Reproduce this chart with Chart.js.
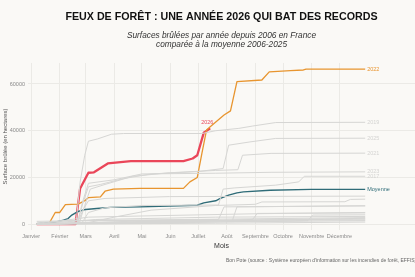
<!DOCTYPE html>
<html lang="fr">
<head>
<meta charset="utf-8">
<title>Feux de forêt 2026</title>
<script src="https://cdn.jsdelivr.net/npm/chart.js@4.4.1/dist/chart.umd.min.js"></script>
<style>
  html, body { margin: 0; padding: 0; background: #faf9f6; }
</style>
</head>
<body>
<canvas id="feuxChart" width="415" height="277"></canvas>
<script>
/* ===================================================
   Surfaces brûlées cumulées par année (hectares)
   =================================================== */

// Axe des mois : jour de l'année du 1er de chaque mois
const moisDebut = [0, 31, 59, 90, 120, 151, 181, 212, 243, 273, 304, 334];
const moisNoms = ["Janvier", "Février", "Mars", "Avril", "Mai", "Juin",
                  "Juillet", "Août", "Septembre", "Octobre", "Novembre", "Décembre"];
const yTicks = [0, 20000, 40000, 60000];

// Séries : [jour, surface cumulée]
const annee2026 = [[6,0],[48,0],[53,15300],[62,22000],[68,22200],[83,26000],[108,27000],
  [165,27000],[175,28100],[180,29500],[187,39100],[194,41000]];

const annee2022 = [[6,0],[19,0],[26,5000],[31,5000],[37,8400],[50,8600],[53,9000],[59,10300],
  [62,11400],[75,11700],[80,14100],[89,15000],[118,15300],[165,15300],[172,18100],[180,20000],
  [185,30300],[190,40300],[194,41700],[209,46700],[216,48500],[223,61000],[250,61700],
  [258,65200],[281,65700],[295,66000],[298,66400],[362,66400]];

const moyenne = [[6,200],[26,800],[35,1700],[40,2400],[44,3900],[50,5300],[59,6300],[71,6700],
  [86,7200],[118,7400],[180,8100],[187,9100],[200,10000],[205,11000],[214,12400],[223,13400],
  [230,13800],[259,14500],[303,14900],[362,14900]];

// autres années (en gris)
const annee2019 = [[6,0],[45,300],[49,2000],[53,18000],[58,29500],[62,35500],[72,36500],[87,38500],
  [100,38800],[185,38800],[200,40000],[225,41000],[240,42000],[265,43500],[362,43600]];
const annee2025 = [[6,0],[50,500],[56,9000],[62,16000],[75,17000],[100,19500],[130,21500],
  [180,22500],[208,23800],[214,33800],[237,35200],[265,36700],[362,36800]];
const annee2021 = [[6,0],[52,300],[58,8000],[64,15000],[80,17000],[110,20500],[150,22000],
  [200,23000],[224,23300],[229,29500],[260,30300],[362,30400]];
const annee2023 = [[6,0],[50,400],[56,10000],[62,17500],[90,19000],[120,21500],[200,21800],
  [260,22200],[362,22400]];
const annee2017 = [[6,0],[55,500],[62,5000],[80,7000],[120,8000],[203,8200],[208,15000],
  [220,15500],[265,16700],[290,18100],[296,20500],[362,20500]];
const annee2006 = [[6,0],[50,300],[56,6000],[62,10000],[80,11000],[150,11800],[362,12000]];
const annee2016 = [[6,0],[60,500],[90,3000],[130,6000],[200,8000],[243,8500],[250,9500],
  [340,9600],[346,10600],[362,10700]];
const annee2015 = [[6,0],[60,400],[120,1500],[203,2000],[209,7400],[362,7800]];
const annee2010 = [[6,0],[100,800],[218,1500],[223,7400],[362,7900]];
const annee2012 = [[6,0],[150,1000],[240,2000],[245,4600],[362,4800]];
const annee2020 = [[6,0],[200,1000],[300,1500],[305,3900],[362,4000]];
const annee2007 = [[6,200],[60,800],[200,1500],[362,2500]];
const annee2008 = [[6,100],[80,500],[250,1800],[362,2200]];
const annee2009 = [[6,0],[100,300],[220,1000],[362,1500]];
const annee2011 = [[6,500],[40,1500],[362,1800]];
const annee2013 = [[6,1200],[50,1500],[362,2800]];
const annee2014 = [[6,0],[200,400],[362,900]];
const annee2018 = [[6,0],[62,3000],[120,3500],[250,4500],[362,5000]];
const annee2024 = [[6,0],[70,2000],[200,3000],[362,3300]];

const grises = [
  ["2019", annee2019, true], ["2025", annee2025, true], ["2021", annee2021, true],
  ["2023", annee2023, true], ["2017", annee2017, true], ["2006", annee2006, false],
  ["2016", annee2016, false], ["2015", annee2015, false], ["2010", annee2010, false],
  ["2012", annee2012, false], ["2020", annee2020, false], ["2007", annee2007, false],
  ["2008", annee2008, false], ["2009", annee2009, false], ["2011", annee2011, false],
  ["2013", annee2013, false], ["2014", annee2014, false], ["2018", annee2018, false],
  ["2024", annee2024, false]
];

const source = "Bon Pote (source : Système européen d'information sur les incendies de forêt, EFFIS)";

const enPoints = serie => serie.map(([x, y]) => ({ x, y }));

const datasets = [];
grises.forEach(([annee, serie, etiquette]) => {
  datasets.push({
    label: annee, data: enPoints(serie),
    borderColor: "#d6d6d4", borderWidth: 1,
    etiquette: etiquette ? annee : null, couleurEtiquette: "#d4d4d2"
  });
});
datasets.push({ label: "Moyenne", data: enPoints(moyenne), borderColor: "#2f6c78",
  borderWidth: 1.4, etiquette: "Moyenne", couleurEtiquette: "#2f6c78" });
datasets.push({ label: "2022", data: enPoints(annee2022), borderColor: "#e8952f",
  borderWidth: 1.3, etiquette: "2022", couleurEtiquette: "#e8952f" });
datasets.push({ label: "2026", data: enPoints(annee2026), borderColor: "#ea4659",
  borderWidth: 2.3, etiquette: "2026", couleurEtiquette: "#ea4659", auDessus: true });

// fond, étiquettes de fin de ligne et source
const decor = {
  id: "decor",
  beforeDraw(chart) {
    const { ctx, width, height } = chart;
    ctx.save();
    ctx.fillStyle = "#faf9f6";
    ctx.fillRect(0, 0, width, height);
    ctx.restore();
  },
  afterDatasetsDraw(chart) {
    const { ctx, scales: { x, y } } = chart;
    ctx.save();
    ctx.textBaseline = "middle";
    chart.data.datasets.forEach(ds => {
      if (!ds.etiquette) return;
      const fin = ds.data[ds.data.length - 1];
      const px = x.getPixelForValue(fin.x);
      const py = y.getPixelForValue(fin.y);
      ctx.fillStyle = ds.couleurEtiquette;
      if (ds.auDessus) {
        ctx.font = '5.3px "Liberation Sans"';
        ctx.textAlign = "center";
        ctx.fillText(ds.etiquette, px - 3, py - 6);
      } else {
        ctx.font = '5.5px "Liberation Sans"';
        ctx.textAlign = "left";
        ctx.fillText(ds.etiquette, px + 2, py);
      }
    });
    ctx.font = '5px "Liberation Sans"';
    ctx.fillStyle = "#666";
    ctx.textAlign = "left";
    ctx.fillText(source, 226, 261);
    ctx.restore();
  }
};

const ctx = document.getElementById("feuxChart").getContext("2d");
new Chart(ctx, {
  type: "line",
  data: { datasets },
  plugins: [decor],
  options: {
    responsive: false,
    animation: false,
    devicePixelRatio: 1,
    layout: { padding: { top: 0, right: 0, bottom: 27, left: 0 } },
    elements: { point: { radius: 0 }, line: { tension: 0, borderJoinStyle: "round" } },
    plugins: {
      legend: { display: false },
      tooltip: { enabled: false },
      title: {
        display: true, fullSize: false,
        text: "FEUX DE FORÊT : UNE ANNÉE 2026 QUI BAT DES RECORDS",
        color: "#111", font: { family: "Liberation Sans", size: 10.7, weight: "bold" },
        padding: { top: 10.6, bottom: 4 }
      },
      subtitle: {
        display: true, fullSize: false,
        text: ["Surfaces brûlées par année depuis 2006 en France", "comparée à la moyenne 2006-2025"],
        color: "#333", font: { family: "Liberation Sans", size: 8.3, style: "italic", lineHeight: 1.08 },
        padding: { top: 4.1, bottom: 13.5 }
      }
    },
    scales: {
      x: {
        type: "linear", min: -3.5, max: 416,
        afterBuildTicks: scale => { scale.ticks = moisDebut.map(v => ({ value: v })); },
        afterFit: scale => { scale.height = 20; },
        ticks: {
          autoSkip: false, maxRotation: 0, padding: 3,
          color: "#8a8a8a", font: { family: "Liberation Sans", size: 5.5 },
          callback: v => moisNoms[moisDebut.indexOf(v)]
        },
        grid: { color: "#ebeae6", drawTicks: false },
        border: { display: false },
        title: { display: true, text: "Mois", color: "#333",
          font: { family: "Liberation Sans", size: 7 }, padding: 0 }
      },
      y: {
        min: -2500, max: 69000,
        afterBuildTicks: scale => { scale.ticks = yTicks.map(v => ({ value: v })); },
        afterFit: scale => { scale.width = 28; },
        ticks: { padding: 3, color: "#8a8a8a", font: { family: "Liberation Sans", size: 5.5 },
          callback: v => String(v) },
        grid: { color: "#ebeae6", drawTicks: false },
        border: { display: false },
        title: { display: true, text: "Surface brûlée (en hectares)", color: "#555",
          font: { family: "Liberation Sans", size: 6 }, padding: { top: 1.5, bottom: 0 } }
      }
    }
  }
});
</script>
</body>
</html>
